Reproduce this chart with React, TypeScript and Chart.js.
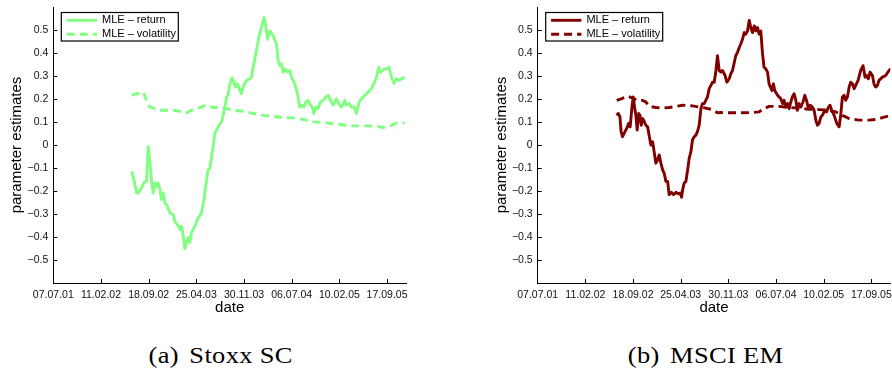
import { useEffect, useRef } from "react";
import { Chart, registerables } from "chart.js";

Chart.register(...registerables);

// Date axis: days counted from 07.07.2001, one tick every 219 days
const tickDays = [0, 219, 438, 657, 876, 1095, 1314, 1533];
const tickLabels = ["07.07.01", "11.02.02", "18.09.02", "25.04.03", "30.11.03", "06.07.04", "10.02.05", "17.09.05"];
const yTickValues = [-0.5, -0.4, -0.3, -0.2, -0.1, 0, 0.1, 0.2, 0.3, 0.4, 0.5];

// Stoxx SC
const stoxxReturnDays = [360, 372, 383, 390, 405, 416, 428, 436, 444, 451, 459, 467, 474, 482, 490, 497, 505, 513, 520, 536, 551, 558, 574, 581, 589, 597, 604, 612, 620, 627, 635, 650, 666, 681, 692, 704, 711, 719, 734, 742, 757, 773, 780, 788, 796, 803, 811, 822, 829, 837, 845, 854, 864, 872, 887, 903, 910, 918, 933, 944, 956, 968, 976, 984, 995, 1010, 1025, 1033, 1040, 1048, 1056, 1066, 1076, 1086, 1094, 1109, 1121, 1132, 1140, 1151, 1160, 1170, 1178, 1189, 1196, 1206, 1216, 1227, 1239, 1252, 1262, 1270, 1285, 1301, 1311, 1323, 1339, 1346, 1359, 1369, 1382, 1392, 1405, 1415, 1431, 1446, 1461, 1476, 1484, 1495, 1502, 1512, 1522, 1530, 1542, 1553, 1565, 1576, 1588, 1599, 1614];
const stoxxReturn = [-0.115, -0.158, -0.209, -0.209, -0.187, -0.165, -0.158, -0.007, -0.079, -0.151, -0.209, -0.165, -0.18, -0.165, -0.194, -0.237, -0.209, -0.252, -0.259, -0.295, -0.302, -0.331, -0.353, -0.367, -0.353, -0.396, -0.45, -0.424, -0.403, -0.424, -0.381, -0.353, -0.317, -0.295, -0.237, -0.151, -0.108, -0.101, -0.007, 0.05, 0.079, 0.101, 0.129, 0.165, 0.209, 0.216, 0.266, 0.292, 0.273, 0.252, 0.266, 0.245, 0.223, 0.252, 0.281, 0.288, 0.295, 0.338, 0.41, 0.468, 0.511, 0.554, 0.518, 0.46, 0.496, 0.475, 0.439, 0.367, 0.345, 0.353, 0.317, 0.331, 0.317, 0.324, 0.295, 0.266, 0.223, 0.165, 0.173, 0.165, 0.187, 0.194, 0.18, 0.165, 0.137, 0.165, 0.158, 0.187, 0.194, 0.209, 0.216, 0.201, 0.173, 0.201, 0.18, 0.165, 0.194, 0.173, 0.18, 0.165, 0.165, 0.137, 0.187, 0.201, 0.216, 0.23, 0.245, 0.273, 0.295, 0.338, 0.317, 0.324, 0.331, 0.331, 0.338, 0.295, 0.269, 0.288, 0.281, 0.288, 0.295];
const stoxxVolDays = [360, 383, 398, 413, 428, 444, 467, 490, 520, 551, 581, 612, 643, 673, 704, 734, 765, 796, 826, 872, 918, 964, 1010, 1056, 1102, 1148, 1193, 1255, 1316, 1377, 1438, 1484, 1515, 1545, 1576, 1614];
const stoxxVol = [0.216, 0.223, 0.226, 0.23, 0.194, 0.165, 0.158, 0.151, 0.151, 0.151, 0.147, 0.14, 0.154, 0.163, 0.174, 0.163, 0.163, 0.158, 0.151, 0.147, 0.137, 0.129, 0.125, 0.119, 0.118, 0.111, 0.101, 0.096, 0.089, 0.083, 0.083, 0.082, 0.076, 0.082, 0.096, 0.096];

// MSCI EM
const emReturnDays = [363, 370, 378, 383, 390, 401, 409, 418, 425, 433, 439, 445, 451, 457, 464, 470, 476, 482, 490, 497, 505, 513, 520, 528, 536, 543, 551, 558, 566, 574, 581, 589, 597, 604, 615, 624, 635, 646, 655, 661, 666, 673, 681, 689, 696, 704, 711, 719, 727, 734, 742, 750, 757, 765, 780, 788, 796, 803, 811, 819, 826, 834, 842, 849, 861, 869, 880, 887, 895, 910, 918, 926, 933, 941, 949, 956, 964, 972, 979, 987, 995, 1002, 1010, 1017, 1025, 1033, 1040, 1048, 1056, 1063, 1076, 1083, 1089, 1102, 1117, 1125, 1132, 1140, 1148, 1155, 1163, 1170, 1178, 1186, 1193, 1201, 1209, 1219, 1227, 1235, 1244, 1252, 1262, 1270, 1278, 1285, 1293, 1301, 1308, 1319, 1327, 1336, 1343, 1351, 1362, 1374, 1385, 1392, 1400, 1408, 1415, 1423, 1431, 1438, 1446, 1454, 1461, 1472, 1484, 1495, 1504, 1512, 1519, 1527, 1538, 1545, 1553, 1561, 1568, 1584, 1599, 1614, 1622];
const emReturn = [0.129, 0.137, 0.122, 0.058, 0.036, 0.058, 0.072, 0.094, 0.079, 0.165, 0.209, 0.165, 0.129, 0.065, 0.137, 0.129, 0.086, 0.115, 0.101, 0.086, 0.079, 0.036, 0.0, 0.014, -0.036, -0.079, -0.065, -0.043, -0.079, -0.108, -0.122, -0.158, -0.158, -0.216, -0.206, -0.216, -0.206, -0.212, -0.209, -0.227, -0.194, -0.165, -0.158, -0.108, -0.058, -0.029, 0.022, 0.036, 0.043, 0.058, 0.086, 0.158, 0.18, 0.18, 0.209, 0.245, 0.259, 0.273, 0.273, 0.324, 0.388, 0.324, 0.317, 0.324, 0.302, 0.273, 0.288, 0.309, 0.324, 0.388, 0.403, 0.424, 0.439, 0.46, 0.489, 0.482, 0.496, 0.542, 0.511, 0.489, 0.518, 0.496, 0.511, 0.482, 0.496, 0.396, 0.338, 0.331, 0.317, 0.266, 0.237, 0.266, 0.237, 0.216, 0.201, 0.18, 0.194, 0.165, 0.18, 0.158, 0.187, 0.209, 0.223, 0.194, 0.151, 0.18, 0.165, 0.187, 0.216, 0.194, 0.158, 0.173, 0.165, 0.151, 0.108, 0.086, 0.094, 0.122, 0.129, 0.151, 0.144, 0.165, 0.173, 0.151, 0.129, 0.094, 0.079, 0.129, 0.209, 0.216, 0.194, 0.209, 0.252, 0.273, 0.266, 0.245, 0.259, 0.281, 0.324, 0.345, 0.295, 0.302, 0.288, 0.317, 0.302, 0.266, 0.252, 0.259, 0.281, 0.295, 0.302, 0.324, 0.331];
const emVolDays = [363, 383, 413, 436, 459, 482, 497, 513, 543, 574, 604, 635, 666, 711, 757, 803, 826, 842, 895, 941, 987, 1017, 1040, 1063, 1109, 1155, 1201, 1247, 1293, 1339, 1369, 1400, 1431, 1476, 1522, 1553, 1584, 1622];
const emVol = [0.194, 0.201, 0.212, 0.204, 0.194, 0.194, 0.187, 0.168, 0.163, 0.161, 0.163, 0.168, 0.173, 0.17, 0.163, 0.154, 0.14, 0.141, 0.14, 0.14, 0.141, 0.144, 0.158, 0.168, 0.168, 0.163, 0.16, 0.155, 0.154, 0.151, 0.144, 0.129, 0.115, 0.108, 0.108, 0.111, 0.119, 0.129];

const SANS = "'Liberation Sans', Arial, Helvetica, sans-serif";
const SERIF = "'Liberation Serif', 'Times New Roman', serif";

function toPoints(days: number[], values: number[]) {
  const n = Math.min(days.length, values.length);
  const out: { x: number; y: number }[] = [];
  for (let i = 0; i < n; i++) out.push({ x: days[i], y: values[i] });
  return out;
}

function formatY(v: number) {
  if (Math.abs(v) < 1e-9) return "0";
  return (v < 0 ? "\u2212" : "") + Math.abs(v).toFixed(1);
}

// Tick marks drawn on the inner side of both axes
const insideTicks = {
  id: "insideTicks",
  afterDraw(chart: any) {
    const { ctx, chartArea, scales } = chart;
    ctx.save();
    ctx.strokeStyle = "#000";
    ctx.lineWidth = 1;
    ctx.beginPath();
    for (const d of tickDays) {
      if (d === 0) continue;
      const px = Math.round(scales.x.getPixelForValue(d)) + 0.5;
      ctx.moveTo(px, chartArea.bottom);
      ctx.lineTo(px, chartArea.bottom - 4);
    }
    for (const v of yTickValues) {
      const py = Math.round(scales.y.getPixelForValue(v)) + 0.5;
      ctx.moveTo(chartArea.left, py);
      ctx.lineTo(chartArea.left + 4, py);
    }
    ctx.stroke();
    ctx.restore();
  },
};

// Boxed legend in the upper-left corner of the plot area
const boxLegend = {
  id: "boxLegend",
  afterDraw(chart: any) {
    const { ctx, chartArea } = chart;
    const x0 = chartArea.left + 8;
    const y0 = chartArea.top + 5.5;
    const w = 117;
    const h = 28.5;
    ctx.save();
    ctx.fillStyle = "#fff";
    ctx.fillRect(x0, y0, w, h);
    ctx.strokeStyle = "#000";
    ctx.lineWidth = 1.2;
    ctx.strokeRect(x0, y0, w, h);
    chart.data.datasets.forEach((ds: any, i: number) => {
      const y = y0 + 7.8 + i * 14;
      ctx.strokeStyle = ds.borderColor;
      ctx.lineWidth = ds.borderWidth;
      ctx.setLineDash(ds.borderDash || []);
      ctx.beginPath();
      ctx.moveTo(x0 + 5.4, y);
      ctx.lineTo(x0 + 35.7, y);
      ctx.stroke();
      ctx.setLineDash([]);
      ctx.fillStyle = "#000";
      ctx.font = `11px ${SANS}`;
      ctx.textBaseline = "middle";
      ctx.textAlign = "left";
      ctx.fillText(ds.label, x0 + 40.7, y);
    });
    ctx.restore();
  },
};

type PanelProps = {
  returnDays: number[];
  returnValues: number[];
  volDays: number[];
  volValues: number[];
  color: string;
  padLeft: number;
  padRight: number;
};

function Panel({ returnDays, returnValues, volDays, volValues, color, padLeft, padRight }: PanelProps) {
  const ref = useRef<HTMLCanvasElement | null>(null);

  useEffect(() => {
    if (!ref.current) return;
    const chart = new Chart(ref.current, {
      type: "line",
      data: {
        datasets: [
          {
            label: "MLE \u2013 return",
            data: toPoints(returnDays, returnValues),
            borderColor: color,
            borderWidth: 2.9,
            pointRadius: 0,
            tension: 0,
            fill: false,
            borderJoinStyle: "round",
          },
          {
            label: "MLE \u2013 volatility",
            data: toPoints(volDays, volValues),
            borderColor: color,
            borderWidth: 2.9,
            borderDash: [8, 5],
            pointRadius: 0,
            tension: 0,
            fill: false,
          },
        ],
      },
      options: {
        animation: false,
        responsive: false,
        events: [],
        layout: { padding: { left: padLeft, right: padRight, top: 7, bottom: 0 } },
        plugins: { legend: { display: false }, tooltip: { enabled: false } },
        scales: {
          x: {
            type: "linear",
            min: 0,
            max: 1620,
            afterBuildTicks: (s: any) => {
              s.ticks = tickDays.map((v) => ({ value: v }));
            },
            afterFit: (s: any) => {
              s.height = 37;
              s.paddingLeft = 0;
              s.paddingRight = 0;
            },
            ticks: {
              autoSkip: false,
              maxRotation: 0,
              padding: 6,
              color: "#111",
              font: { family: SANS, size: 10.5 },
              callback: (v: any) => tickLabels[tickDays.indexOf(Number(v))] ?? "",
            },
            grid: { display: true, drawOnChartArea: false, drawTicks: false },
            border: { display: true, color: "#000", width: 1 },
            title: {
              display: true,
              text: "date",
              color: "#000",
              font: { family: SANS, size: 15 },
              padding: { top: 0, bottom: 3 },
            },
          },
          y: {
            type: "linear",
            min: -0.6,
            max: 0.6,
            afterBuildTicks: (s: any) => {
              s.ticks = yTickValues.map((v) => ({ value: v }));
            },
            afterFit: (s: any) => {
              s.width = 53.3;
              s.paddingTop = 0;
              s.paddingBottom = 0;
            },
            ticks: {
              autoSkip: false,
              padding: 5,
              color: "#111",
              font: { family: SANS, size: 10.5 },
              callback: (v: any) => formatY(Number(v)),
            },
            grid: { display: true, drawOnChartArea: false, drawTicks: false },
            border: { display: true, color: "#000", width: 1 },
            title: {
              display: true,
              text: "parameter estimates",
              color: "#000",
              font: { family: SANS, size: 15 },
              padding: { top: 8, bottom: 0 },
            },
          },
        },
      } as any,
      plugins: [insideTicks, boxLegend],
    });
    return () => chart.destroy();
  }, [returnDays, returnValues, volDays, volValues, color, padLeft, padRight]);

  return <canvas ref={ref} width={446} height={320} style={{ display: "block" }} />;
}

const captionStyle: React.CSSProperties = {
  position: "absolute",
  top: 341,
  width: 446,
  textAlign: "center",
  fontFamily: SERIF,
  fontSize: 23,
  letterSpacing: "0.3px",
  color: "#000",
  lineHeight: "30px",
  whiteSpace: "nowrap",
};

const innerCaption: React.CSSProperties = {
  display: "inline-block",
  transform: "scaleX(1.15)",
};

export default function App() {
  return (
    <div style={{ position: "absolute", left: 0, top: 0, width: 892, height: 370, background: "#fff", overflow: "hidden" }}>
      <div style={{ position: "absolute", left: 0, top: 0 }}>
        <Panel
          returnDays={stoxxReturnDays}
          returnValues={stoxxReturn}
          volDays={stoxxVolDays}
          volValues={stoxxVol}
          color="#80ff80"
          padLeft={0}
          padRight={40}
        />
      </div>
      <div style={{ position: "absolute", left: 446, top: 0 }}>
        <Panel
          returnDays={emReturnDays}
          returnValues={emReturn}
          volDays={emVolDays}
          volValues={emVol}
          color="#800000"
          padLeft={38.4}
          padRight={1.7}
        />
      </div>
      <div style={{ ...captionStyle, left: -2 }}>
        <span style={innerCaption}>
          (a)<span style={{ marginLeft: 9 }}>Stoxx SC</span>
        </span>
      </div>
      <div style={{ ...captionStyle, left: 483 }}>
        <span style={innerCaption}>
          (b)<span style={{ marginLeft: 9 }}>MSCI EM</span>
        </span>
      </div>
    </div>
  );
}
